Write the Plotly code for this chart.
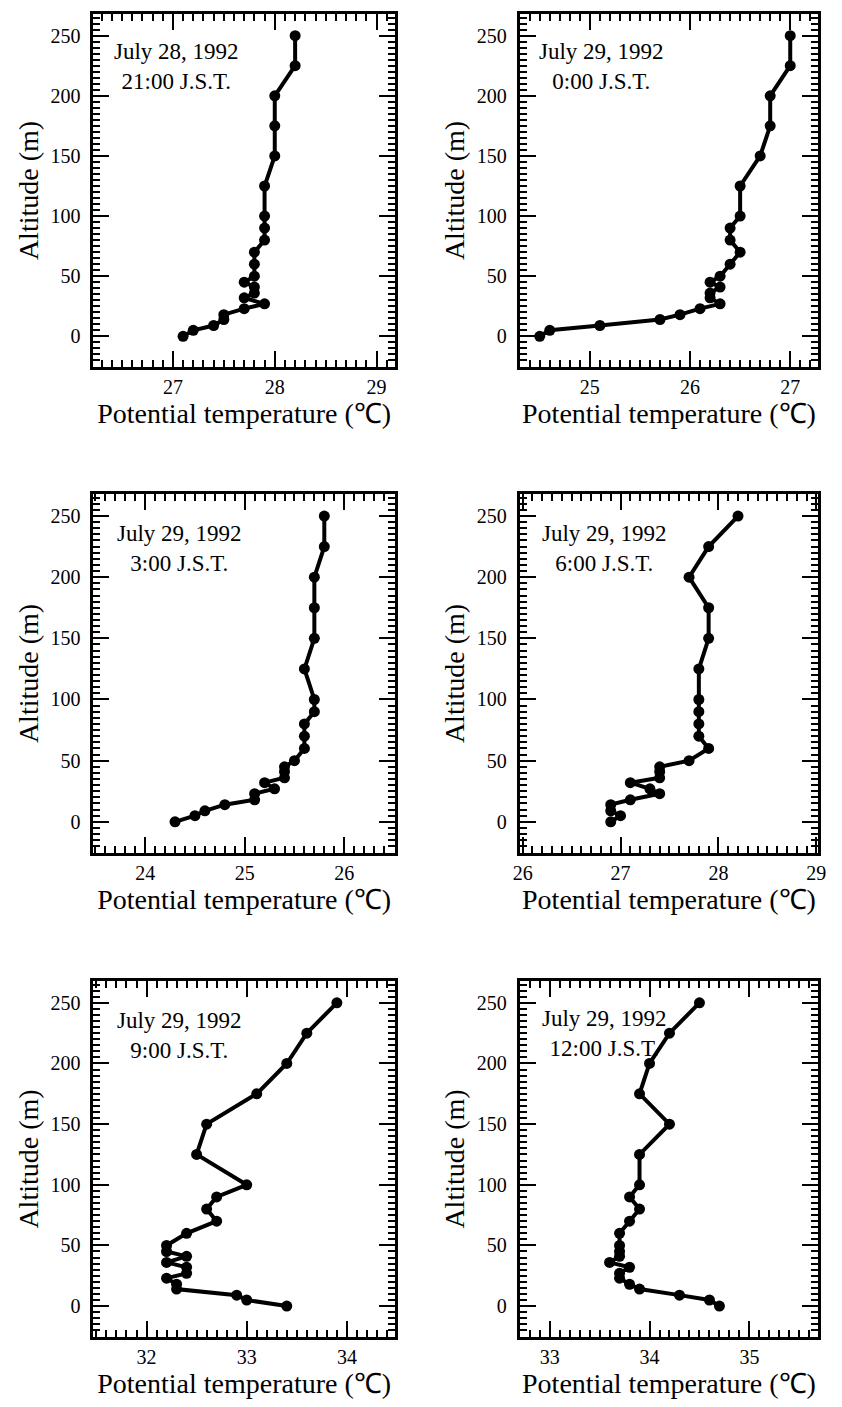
import plotly.graph_objects as go

# ---------------- data ----------------
altitude = [0, 5, 9, 14, 18, 23, 27, 32, 36, 41, 45, 50, 60, 70, 80, 90,
            100, 125, 150, 175, 200, 225, 250]

theta_0728_2100 = [27.1, 27.2, 27.4, 27.5, 27.5, 27.7, 27.9, 27.7, 27.8, 27.8, 27.7, 27.8,
                   27.8, 27.8, 27.9, 27.9, 27.9, 27.9, 28.0, 28.0, 28.0, 28.2, 28.2]
theta_0729_0000 = [24.5, 24.6, 25.1, 25.7, 25.9, 26.1, 26.3, 26.2, 26.2, 26.3, 26.2, 26.3,
                   26.4, 26.5, 26.4, 26.4, 26.5, 26.5, 26.7, 26.8, 26.8, 27.0, 27.0]
theta_0729_0300 = [24.3, 24.5, 24.6, 24.8, 25.1, 25.1, 25.3, 25.2, 25.4, 25.4, 25.4, 25.5,
                   25.6, 25.6, 25.6, 25.7, 25.7, 25.6, 25.7, 25.7, 25.7, 25.8, 25.8]
theta_0729_0600 = [26.9, 27.0, 26.9, 26.9, 27.1, 27.4, 27.3, 27.1, 27.4, 27.4, 27.4, 27.7,
                   27.9, 27.8, 27.8, 27.8, 27.8, 27.8, 27.9, 27.9, 27.7, 27.9, 28.2]
theta_0729_0900 = [33.4, 33.0, 32.9, 32.3, 32.3, 32.2, 32.4, 32.4, 32.2, 32.4, 32.2, 32.2,
                   32.4, 32.7, 32.6, 32.7, 33.0, 32.5, 32.6, 33.1, 33.4, 33.6, 33.9]
theta_0729_1200 = [34.7, 34.6, 34.3, 33.9, 33.8, 33.7, 33.7, 33.8, 33.6, 33.7, 33.7, 33.7,
                   33.7, 33.8, 33.9, 33.8, 33.9, 33.9, 34.2, 33.9, 34.0, 34.2, 34.5]

panel_labels = [
    "July 28, 1992<br>21:00 J.S.T.",
    "July 29, 1992<br>0:00 J.S.T.",
    "July 29, 1992<br>3:00 J.S.T.",
    "July 29, 1992<br>6:00 J.S.T.",
    "July 29, 1992<br>9:00 J.S.T.",
    "July 29, 1992<br>12:00 J.S.T.",
]
series = [theta_0728_2100, theta_0729_0000, theta_0729_0300,
          theta_0729_0600, theta_0729_0900, theta_0729_1200]
x_ranges = [[26.22, 29.18], [24.30, 27.28], [23.48, 26.51],
            [25.97, 29.02], [31.47, 34.48], [32.70, 35.69]]
y_range = [-25.5, 268]

x_title = "Potential temperature (℃)"
y_title = "Altitude (m)"

# ---------------- layout geometry (pixels) ----------------
W, H = 842, 1407
col_px = [(88, 395), (522, 826)]
row_px = [(14, 367), (494, 853), (981, 1337)]
label_pos = [(0.277, 0.850), (0.273, 0.850), (0.285, 0.848),
             (0.283, 0.848), (0.285, 0.847), (0.283, 0.852)]

FONT = "Liberation Serif, Times New Roman, serif"

fig = go.Figure()
layout = dict(
    width=W, height=H, margin=dict(l=0, r=0, t=0, b=0),
    paper_bgcolor="white", plot_bgcolor="white", showlegend=False,
    font=dict(family=FONT, color="black"),
)
annotations = []
for i in range(6):
    r, c = divmod(i, 2)
    x0, x1 = col_px[c]
    top, bot = row_px[r]
    xa = "xaxis" if i == 0 else f"xaxis{i+1}"
    ya = "yaxis" if i == 0 else f"yaxis{i+1}"
    xref = "x" if i == 0 else f"x{i+1}"
    yref = "y" if i == 0 else f"y{i+1}"
    fig.add_trace(go.Scatter(
        x=series[i], y=altitude, mode="lines+markers",
        line=dict(color="black", width=4),
        marker=dict(color="black", size=11),
        xaxis=xref, yaxis=yref,
    ))
    common = dict(
        showline=True, linewidth=3, linecolor="black", mirror="ticks",
        ticks="inside", tickwidth=2, ticklen=16, tickcolor="black",
        showgrid=False, zeroline=False,
        tickfont=dict(family=FONT, size=20, color="black"),
        title_font=dict(family=FONT, size=28, color="black"),
    )
    layout[xa] = dict(
        common, domain=[x0 / W, x1 / W], anchor=yref, range=x_ranges[i],
        dtick=1, tick0=0,
        minor=dict(ticks="inside", dtick=0.1, ticklen=7, tickwidth=2, tickcolor="black"),
        title=dict(text=x_title, standoff=2),
    )
    layout[ya] = dict(
        common, domain=[1 - bot / H, 1 - top / H], anchor=xref, range=y_range,
        dtick=50, tick0=0,
        minor=dict(ticks="inside", dtick=5, ticklen=7, tickwidth=2, tickcolor="black"),
        title=dict(text=y_title, standoff=4),
        ticklabelstandoff=6,
    )
    lx, ly = label_pos[i]
    annotations.append(dict(
        text=panel_labels[i], xref=f"{xref} domain", yref=f"{yref} domain",
        x=lx, y=ly, xanchor="center", yanchor="middle", showarrow=False,
        font=dict(family=FONT, size=23, color="black"), align="center",
    ))
layout["annotations"] = annotations
fig.update_layout(**layout)
fig.write_html(
    "out.html",
    config={"displayModeBar": False},
    post_script="document.body.style.margin='0';document.body.style.overflow='hidden';",
)
